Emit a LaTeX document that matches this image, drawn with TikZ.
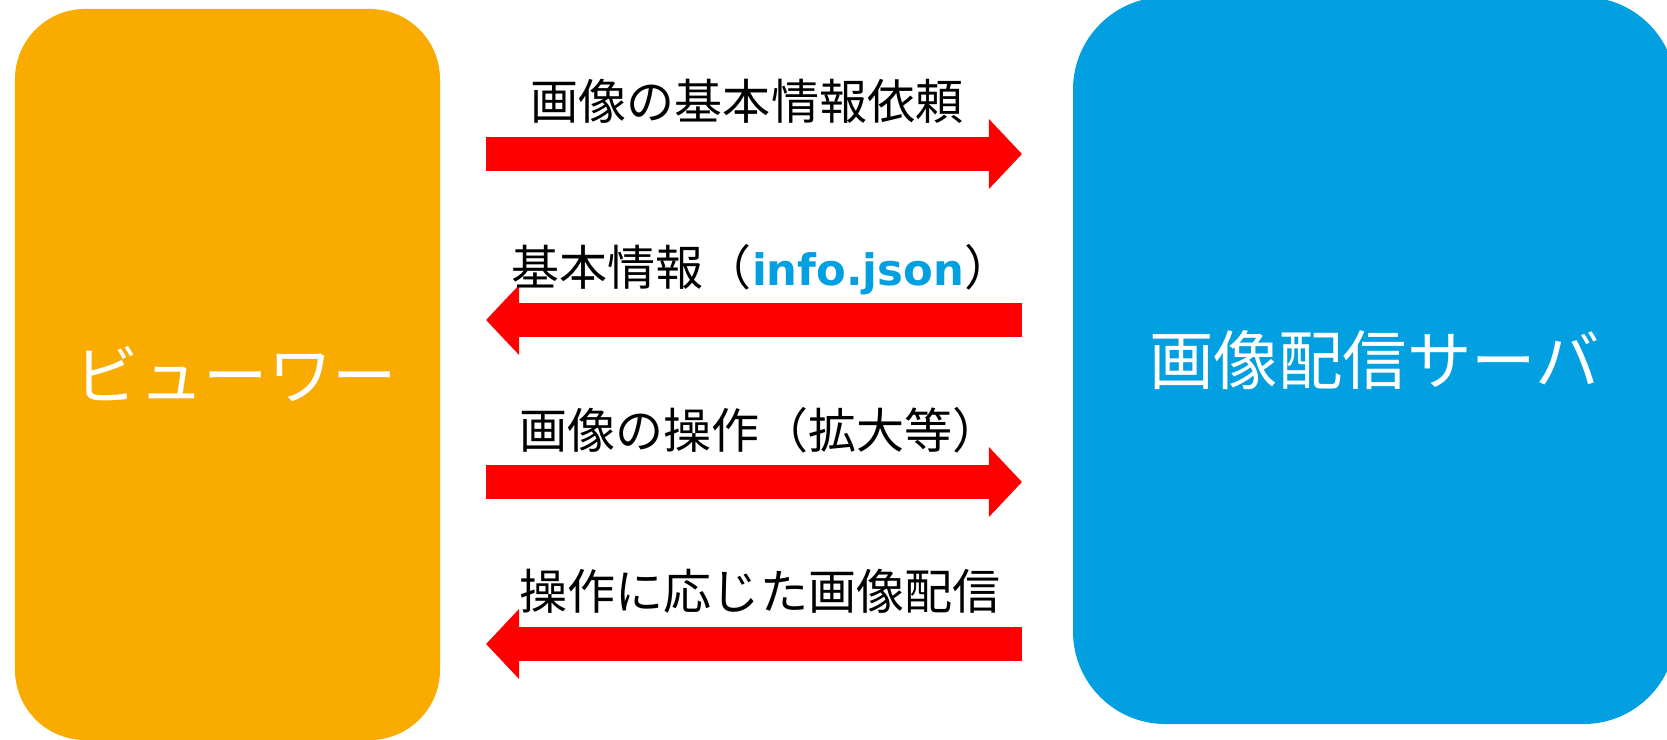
\documentclass[tikz,border=0pt]{standalone}
\usepackage{fontspec}
\setmainfont{Noto Sans CJK JP}
\newfontfamily\jsonfont{DejaVu Sans}
\usetikzlibrary{arrows.meta}
\definecolor{viewerorange}{HTML}{FAAB00}
\definecolor{serverblue}{HTML}{02A0E0}
\tikzstyle{party} = [rectangle,inner sep=0pt,text=white,font=\fontsize{55}{60}\selectfont]
\tikzstyle{msg} = [inner sep=0pt,font=\fontsize{41}{48}\selectfont]
\tikzstyle{flow} = [draw=red,line width=28.6pt,-{Triangle[length=28.2pt,width=58pt]}]

\begin{document}
\begin{tikzpicture}[x=0.03cm,y=-0.03cm]
    \useasboundingbox (0,0) rectangle (1667,740);
    % First we draw the two parties
    \node[party,fill=viewerorange,rounded corners=60pt,
          minimum width=362.8pt,minimum height=624pt] (viewer) at (227.5,374.5) {};
    \node[party] (viewertext) at (236,374.5) {ビューワー};
    \node[party,fill=serverblue,rounded corners=79pt,
          minimum width=514.7pt,minimum height=620.6pt] (server) at (1374.5,360.5) {画像配信サーバ};

    % End points of the four messages
    \foreach \name/\y in {req/154, info/320, op/482, img/644} {
        \coordinate (\name-l) at (486,\y);
        \coordinate (\name-r) at (1022,\y);
    }

    % Connect them with the arrows
    \foreach \source/ \dest in {req-l/req-r, info-r/info-l, op-l/op-r, img-r/img-l}
        \draw[flow] (\source) -- (\dest);

    % Labels above the arrows
    \node[msg] (reqtext) at (747,101) {画像の基本情報依頼};
    \node[msg] (infotext) at (762,270) {基本情報（{\jsonfont\bfseries\fontsize{37}{44}\selectfont\textcolor{serverblue}{info.json}}）};
    \node[msg] (optext) at (760,430) {画像の操作（拡大等）};
    \node[msg] (imgtext) at (760,591) {操作に応じた画像配信};
\end{tikzpicture}
\end{document}
